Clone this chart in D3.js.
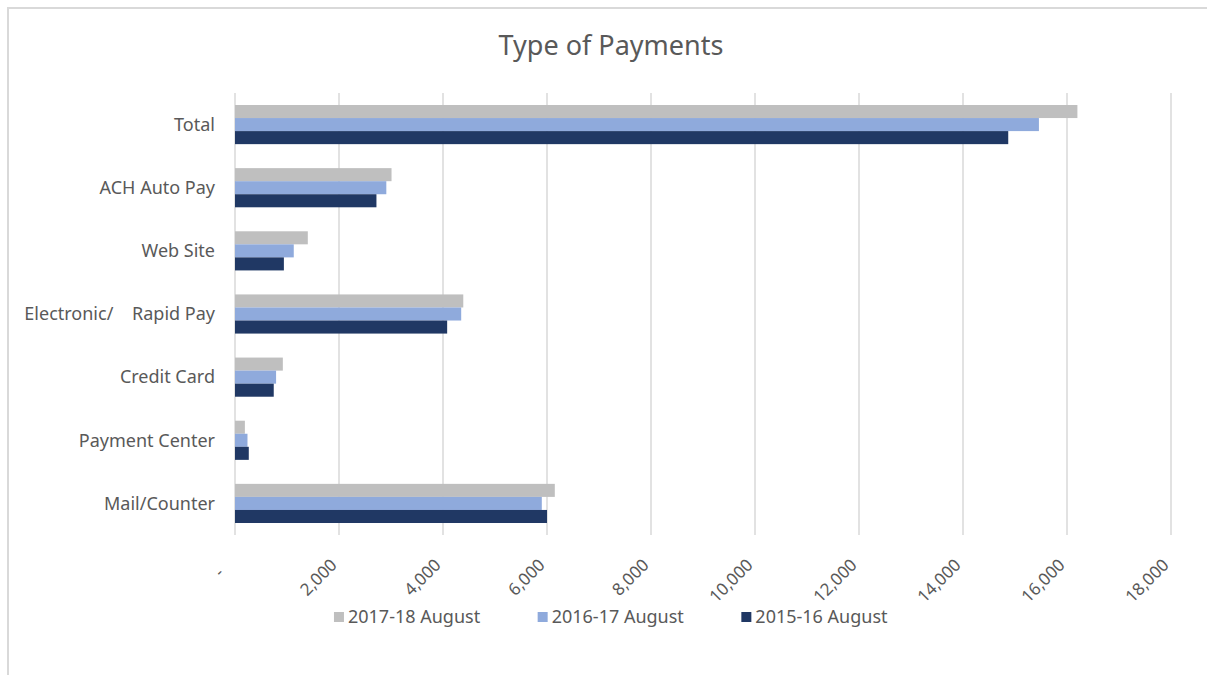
<!DOCTYPE html>
<html lang="en">
<head>
    <meta charset="UTF-8">
    <title>Type of Payments</title>
    <script src="https://cdnjs.cloudflare.com/ajax/libs/d3/7.8.2/d3.min.js"></script>
    <style>
        body {
            margin: 0;
            background: #fff;
            font-family: "Noto Sans", "Open Sans", sans-serif;
        }
        text {
            fill: #595959;
            white-space: pre;
        }
    </style>
</head>
<body>
    <div id="chart"></div>

    <script>
        // Data
        const categories = ["Total", "ACH Auto Pay", "Web Site", "Electronic/    Rapid Pay", "Credit Card", "Payment Center", "Mail/Counter"];
        const seriesNames = ["2017-18 August", "2016-17 August", "2015-16 August"];
        const values2017 = [16200, 3010, 1400, 4390, 920, 190, 6150];
        const values2016 = [15460, 2910, 1130, 4350, 790, 240, 5900];
        const values2015 = [14870, 2720, 940, 4080, 745, 265, 6000];
        const xTicks = [0, 2000, 4000, 6000, 8000, 10000, 12000, 14000, 16000, 18000];
        const colors = ["#BFBFBF", "#8FAADC", "#203864"];

        const seriesValues = [values2017, values2016, values2015];

        const width = 1207, height = 675;
        const plot = { left: 235, right: 1171, top: 93, bottom: 535 };

        const svg = d3.select("#chart")
            .append("svg")
            .attr("width", width)
            .attr("height", height);

        // outer frame (only top and left edges visible in the crop)
        svg.append("rect")
            .attr("x", 8).attr("y", 8)
            .attr("width", width + 20).attr("height", height + 20)
            .attr("fill", "none")
            .attr("stroke", "#D9D9D9")
            .attr("stroke-width", 2);

        const x = d3.scaleLinear()
            .domain([0, 18000])
            .range([plot.left, plot.right]);

        const y = d3.scaleBand()
            .domain(categories)
            .range([plot.top, plot.bottom])
            .paddingInner(0.38)
            .paddingOuter(0.19);

        const ySub = d3.scaleBand()
            .domain(seriesNames)
            .range([0, y.bandwidth()]);

        // title
        svg.append("text")
            .attr("x", 611)
            .attr("y", 55)
            .attr("text-anchor", "middle")
            .attr("font-size", "27px")
            .text("Type of Payments");

        // gridlines
        svg.append("g")
            .selectAll("line")
            .data(xTicks)
            .enter()
            .append("line")
            .attr("x1", d => x(d))
            .attr("x2", d => x(d))
            .attr("y1", plot.top)
            .attr("y2", plot.bottom)
            .attr("stroke", "#D9D9D9")
            .attr("stroke-width", 1.5);

        // bars
        const groups = svg.append("g")
            .selectAll("g")
            .data(categories)
            .enter()
            .append("g")
            .attr("transform", d => `translate(0, ${y(d)})`);

        groups.selectAll("rect")
            .data((c, i) => seriesNames.map((s, j) => ({ series: s, value: seriesValues[j][i], color: colors[j] })))
            .enter()
            .append("rect")
            .attr("x", x(0))
            .attr("y", d => ySub(d.series))
            .attr("width", d => x(d.value) - x(0))
            .attr("height", ySub.bandwidth())
            .attr("fill", d => d.color);

        // category labels
        svg.append("g")
            .selectAll("text")
            .data(categories)
            .enter()
            .append("text")
            .attr("x", plot.left - 20)
            .attr("y", d => y(d) + y.bandwidth() / 2)
            .attr("dy", "0.35em")
            .attr("text-anchor", "end")
            .attr("font-size", "18px")
            .text(d => d);

        // x tick labels, rotated
        const fmt = d3.format(",");
        svg.append("g")
            .selectAll("text")
            .data(xTicks)
            .enter()
            .append("text")
            .attr("transform", d => `translate(${x(d) - 1 - (d === 0 ? 9 : 0)}, ${566 + (d === 0 ? 8 : 0)}) rotate(-45)`)
            .attr("text-anchor", "end")
            .attr("font-size", "17px")
            .text(d => d === 0 ? "-" : fmt(d));

        // legend
        const legend = svg.append("g");
        const items = legend.selectAll("g")
            .data(seriesNames)
            .enter()
            .append("g");
        items.append("rect")
            .attr("width", 10)
            .attr("height", 10)
            .attr("y", -5)
            .attr("fill", (d, i) => colors[i]);
        items.append("text")
            .attr("x", 14)
            .attr("dy", "0.35em")
            .attr("font-size", "18px")
            .text(d => d);

        const widths = [];
        items.each(function () { widths.push(this.getBBox().width); });
        const gap = 57;
        const total = d3.sum(widths) + gap * (widths.length - 1);
        let start = 611 - total / 2;
        items.attr("transform", (d, i) => {
            const t = `translate(${start}, 617)`;
            start += widths[i] + gap;
            return t;
        });
    </script>
</body>
</html>
